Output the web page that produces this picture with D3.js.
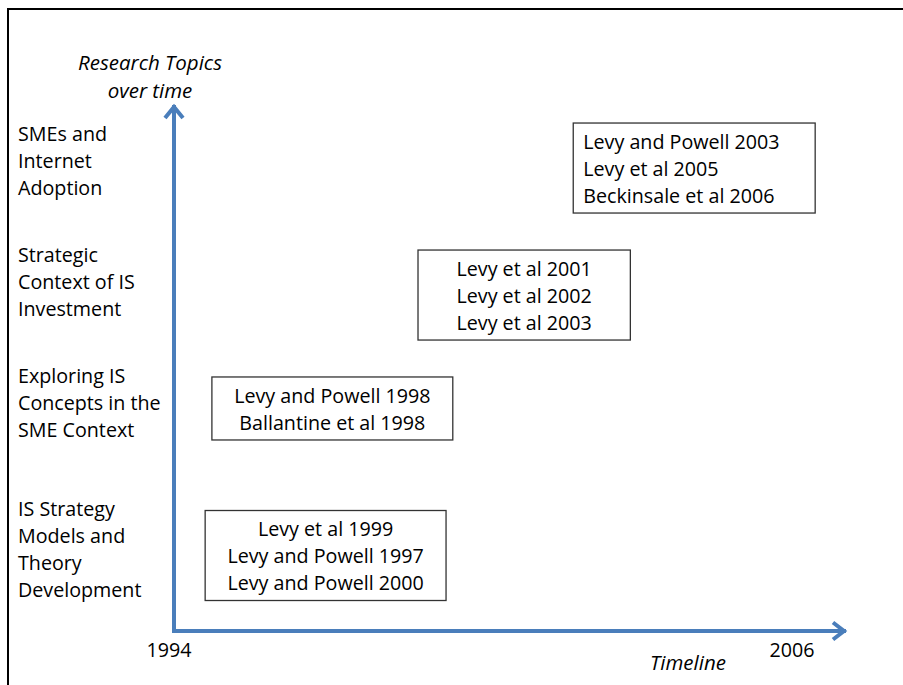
<!DOCTYPE html>
<html>
<head>
<meta charset="utf-8">
<script src="https://cdn.jsdelivr.net/npm/d3@7"></script>
<style>
  body { margin: 0; background: #fff; }
  svg { display: block; }
  text { font-family: "Open Sans", sans-serif; fill: #000; }
</style>
</head>
<body>
<script>
// Research topics (y direction), listed bottom to top
const topics = [
  ["IS Strategy", "Models and", "Theory", "Development"],
  ["Exploring IS", "Concepts in the", "SME Context"],
  ["Strategic", "Context of IS", "Investment"],
  ["SMEs and", "Internet", "Adoption"]
];
const topicLevels = [0.62, 1.73, 2.65, 3.57];

// Publications grouped in boxes
const boxRefs = [
  ["Levy et al 1999", "Levy and Powell 1997", "Levy and Powell 2000"],
  ["Levy and Powell 1998", "Ballantine et al 1998"],
  ["Levy et al 2001", "Levy et al 2002", "Levy et al 2003"],
  ["Levy and Powell 2003", "Levy et al 2005", "Beckinsale et al 2006"]
];
const boxStart = [1994.6, 1994.73, 1998.7, 2001.69];
const boxEnd   = [1999.24, 1999.37, 2002.79, 2006.35];
const boxLevels = [0.573, 1.689, 2.55, 3.514];
const boxAlign = ["middle", "middle", "middle", "start"];

const yearTicks = [1994, 2006];

const w = 903, h = 685;
const blue = "#4a7ebb";
const lineH = 27;
const fs = "19.7px";
const fsItalic = "20.5px";

const x = d3.scaleLinear().domain([1994, 2006]).range([174, 797]);
const y = d3.scaleLinear().domain([0, 4]).range([631, 104]);

const svg = d3.select("body").append("svg")
  .attr("width", w)
  .attr("height", h);

// outer frame
svg.append("rect")
  .attr("x", 8).attr("y", 9)
  .attr("width", 1000).attr("height", 1000)
  .attr("fill", "none")
  .attr("stroke", "#000")
  .attr("stroke-width", 2);

// axes with open arrow heads
const x0 = x(1994), y0 = y(0);
const xTip = 847, yTip = y(4);
const axes = svg.append("g")
  .attr("stroke", blue)
  .attr("stroke-width", 4)
  .attr("fill", "none");
axes.append("line").attr("x1", x0).attr("y1", y0 + 2).attr("x2", x0).attr("y2", yTip + 1);
axes.append("line").attr("x1", x0 - 2).attr("y1", y0).attr("x2", xTip - 1).attr("y2", y0);
axes.append("path")
  .attr("stroke-linejoin", "miter")
  .attr("d", `M${x0 - 9},${yTip + 14}L${x0},${yTip + 3}L${x0 + 9},${yTip + 14}`);
axes.append("path")
  .attr("stroke-linejoin", "miter")
  .attr("d", `M${xTip - 14},${y0 - 8.5}L${xTip - 3},${y0}L${xTip - 14},${y0 + 8.5}`);

// axis titles
svg.append("text")
  .attr("y", 63)
  .attr("text-anchor", "middle")
  .style("font-style", "italic")
  .style("font-size", fsItalic)
  .selectAll("tspan")
  .data(["Research Topics", "over time"])
  .enter().append("tspan")
  .attr("x", 150)
  .attr("dy", (d, i) => i === 0 ? "0.35em" : "28px")
  .text(d => d);

svg.append("text")
  .attr("x", 688).attr("y", 663)
  .attr("dy", "0.35em")
  .attr("text-anchor", "middle")
  .style("font-style", "italic")
  .style("font-size", fsItalic)
  .text("Timeline");

// year labels
svg.selectAll("text.year")
  .data(yearTicks)
  .enter().append("text")
  .attr("class", "year")
  .attr("x", d => x(d) - 5)
  .attr("y", 650)
  .attr("dy", "0.35em")
  .attr("text-anchor", "middle")
  .style("font-size", fs)
  .text(d => d);

// topic labels on the left
const topicG = svg.selectAll("g.topic")
  .data(topics)
  .enter().append("g")
  .attr("class", "topic");
topicG.each(function(lines, i) {
  const cy = y(topicLevels[i]);
  const top = cy - (lines.length - 1) * lineH / 2;
  d3.select(this).selectAll("text")
    .data(lines)
    .enter().append("text")
    .attr("x", 18)
    .attr("y", (d, j) => top + j * lineH)
    .attr("dy", "0.35em")
    .style("font-size", fs)
    .text(d => d);
});

// reference boxes
const boxG = svg.selectAll("g.box")
  .data(boxRefs)
  .enter().append("g")
  .attr("class", "box");
boxG.each(function(lines, i) {
  const g = d3.select(this);
  const bx0 = x(boxStart[i]), bx1 = x(boxEnd[i]);
  const cy = y(boxLevels[i]);
  const bh = lines.length * lineH + 9;
  g.append("rect")
    .attr("x", bx0).attr("y", cy - bh / 2)
    .attr("width", bx1 - bx0).attr("height", bh)
    .attr("fill", "#fff")
    .attr("stroke", "#333")
    .attr("stroke-width", 1.3);
  const tx = boxAlign[i] === "start" ? bx0 + 10 : (bx0 + bx1) / 2;
  const top = cy - (lines.length - 1) * lineH / 2 + 1;
  g.selectAll("text")
    .data(lines)
    .enter().append("text")
    .attr("x", tx)
    .attr("y", (d, j) => top + j * lineH)
    .attr("dy", "0.35em")
    .attr("text-anchor", boxAlign[i])
    .style("font-size", fs)
    .text(d => d);
});
</script>
</body>
</html>
